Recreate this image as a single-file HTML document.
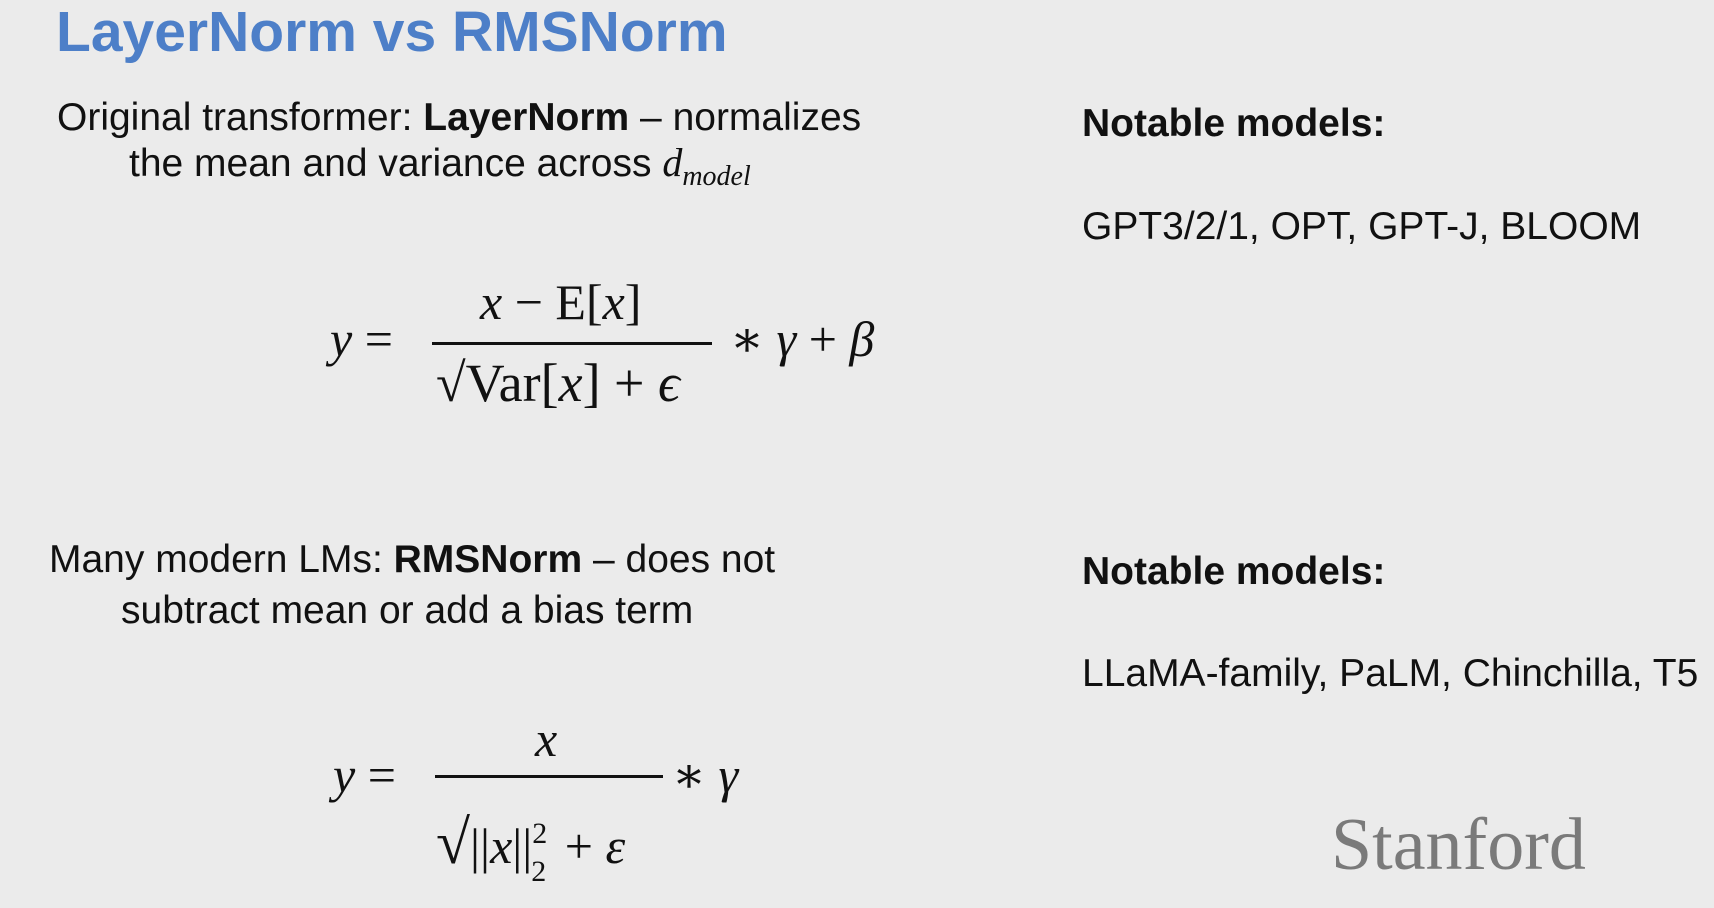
<!DOCTYPE html>
<html><head><meta charset="utf-8"><style>
body{margin:0;width:1714px;height:908px;background:#ebebeb;overflow:hidden;position:relative;font-family:"Liberation Sans",sans-serif;color:#111}
.a{position:absolute;white-space:nowrap}
.t{font-size:57px;font-weight:bold;color:#4d7fc8;left:56px;top:-1px}
.b{font-size:39px}
.m{font-family:"Liberation Serif","DejaVu Serif",serif;font-size:50px}
.i{font-style:italic}
.bar{position:absolute;height:3px;background:#111}
</style></head><body>
<div class="a t">LayerNorm vs RMSNorm</div>
<div class="a b" style="left:57px;top:96px">Original transformer: <b>LayerNorm</b> – normalizes</div>
<div class="a b" style="left:129px;top:139px">the mean and variance across <span class="m i" style="font-size:40px">d</span><sub class="m i" style="font-size:28px">model</sub></div>

<div class="a m" style="left:330px;top:310px"><span class="i">y</span> =</div>
<div class="a m" style="left:480px;top:273px"><span class="i">x</span> − E[<span class="i">x</span>]</div>
<div class="bar" style="left:432px;top:342px;width:280px"></div>
<div class="a m" style="left:436px;top:352px;font-size:54px">√Var[<span class="i">x</span>] + <span class="i">ϵ</span></div>
<div class="a m" style="left:730px;top:310px">∗ <span class="i">γ</span> + <span class="i">β</span></div>

<div class="a b" style="left:1082px;top:102px;font-weight:bold">Notable models:</div>
<div class="a b" style="left:1082px;top:205px">GPT3/2/1, OPT, GPT-J, BLOOM</div>

<div class="a b" style="left:49px;top:538px">Many modern LMs: <b>RMSNorm</b> – does not</div>
<div class="a b" style="left:121px;top:589px">subtract mean or add a bias term</div>

<div class="a b" style="left:1082px;top:550px;font-weight:bold">Notable models:</div>
<div class="a b" style="left:1082px;top:652px">LLaMA-family, PaLM, Chinchilla, T5</div>

<div class="a m" style="left:333px;top:746px"><span class="i">y</span> =</div>
<div class="a m" style="left:535px;top:710px"><span class="i">x</span></div>
<div class="bar" style="left:435px;top:775px;width:228px"></div>
<div class="a m" style="left:436px;top:808px"><span style="font-size:62px">√</span>||<span class="i">x</span>||<span style="position:relative;font-size:30px;top:-20px">2</span><span style="position:relative;font-size:30px;top:18px;left:-16px;margin-right:-10px">2</span> + <span class="i">ε</span></div>
<div class="a m" style="left:672px;top:746px">∗ <span class="i">γ</span></div>

<div class="a" style="left:1331px;top:803px;font-family:'Liberation Serif',serif;font-size:74px;color:#7a7a7a">Stanford</div>
</body></html>
